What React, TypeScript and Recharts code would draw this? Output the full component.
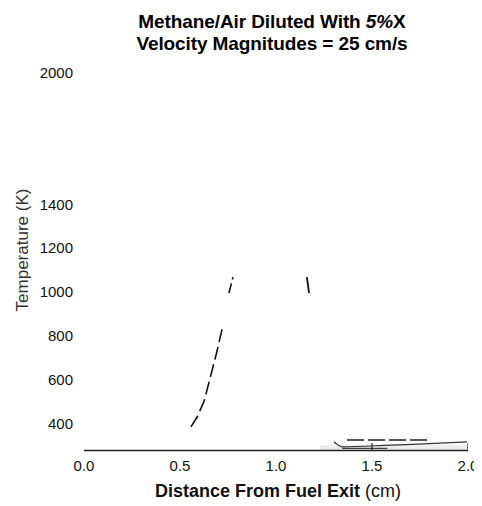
import React from "react";
import { LineChart, Line, XAxis, YAxis, ReferenceArea } from "recharts";

// ---- data ----
const xTicks = [0, 0.5, 1, 1.5, 2];
const yTicks = [400, 600, 800, 1000, 1200, 1400, 2000];

const leftDashedX = [0.557, 0.59, 0.625, 0.655, 0.69, 0.724];
const leftDashedT = [384, 430, 500, 600, 720, 849];

const upperDashedX = [0.755, 0.776];
const upperDashedT = [995, 1068];

const solidShortX = [1.161, 1.172];
const solidShortT = [1068, 995];

const baseDashedX = [1.37, 1.802];
const baseDashedT = [324, 324];

const curveX = [1.302, 1.318, 1.332, 1.344, 1.6, 1.8, 1.995];
const curveT = [316, 304, 297, 293, 301, 307, 315];

const flatX = [1.344, 1.58];
const flatT = [286, 286];

const tickMarkAX = [1.5, 1.5];
const tickMarkBX = [2.0, 2.0];
const tickMarkT = [276, 310];

const bandX = [1.23, 2.0];
const bandT = [276, 301];

const zip = (xs: number[], ts: number[]) => xs.map((x, i) => ({ x, t: ts[i] }));

const FONT = "'Liberation Sans', Arial, Helvetica, sans-serif";

export default function App() {
  const W = 474;
  const H = 498;
  return (
    <div style={{ position: "relative", width: W, height: H, fontFamily: FONT, background: "#fff" }}>
      <div
        style={{
          position: "absolute",
          top: 3,
          left: 264,
          transform: "translateX(-50%)",
          whiteSpace: "nowrap",
          textAlign: "center",
          fontSize: 19,
          lineHeight: "22px",
          fontWeight: "bold",
          color: "#000",
          letterSpacing: -0.1,
        }}
      >
        <div>
          Methane/Air Diluted With <i>5%</i>X
        </div>
        <div>Velocity Magnitudes = 25 cm/s</div>
      </div>
      <div
        style={{
          position: "absolute",
          left: 14.5,
          top: 242,
          transform: "translate(-50%, -50%) rotate(-90deg)",
          whiteSpace: "nowrap",
          fontSize: 17,
          color: "#333",
        }}
      >
        Temperature (K)
      </div>
      <div
        style={{
          position: "absolute",
          left: 270,
          top: 472,
          transform: "translateX(-50%)",
          whiteSpace: "nowrap",
          fontSize: 18,
          lineHeight: "22px",
          color: "#111",
        }}
      >
        <b>Distance From Fuel Exit</b> (cm)
      </div>
      <LineChart width={W} height={H} margin={{ top: 65, right: 14, bottom: 0, left: 0 }}>
        <XAxis
          type="number"
          dataKey="x"
          domain={[0, 2]}
          ticks={xTicks}
          allowDataOverflow
          height={55.5}
          tickLine={false}
          tickSize={6}
          tickMargin={4}
          axisLine={{ stroke: "#222", strokeWidth: 1.6 }}
          tickFormatter={(v: number) => v.toFixed(1)}
          tick={{ fill: "#111", fontSize: 15, fontFamily: FONT }}
        />
        <YAxis
          type="number"
          dataKey="t"
          domain={[276, 2000]}
          ticks={yTicks}
          allowDataOverflow
          width={76}
          tickLine={false}
          axisLine={false}
          tickSize={6}
          tickMargin={5}
          interval={0}
          tick={{ fill: "#111", fontSize: 15, fontFamily: FONT }}
        />
        <ReferenceArea
          x1={bandX[0]}
          x2={bandX[1]}
          y1={bandT[0]}
          y2={bandT[1]}
          fill="#eeeeee"
          fillOpacity={1}
          stroke="none"
          ifOverflow="visible"
        />
        <Line data={zip(leftDashedX, leftDashedT)} dataKey="t" stroke="#111" strokeWidth={1.6} strokeDasharray="13 5" dot={false} isAnimationActive={false} type="linear" />
        <Line data={zip(upperDashedX, upperDashedT)} dataKey="t" stroke="#111" strokeWidth={1.6} strokeDasharray="10 4" dot={false} isAnimationActive={false} type="linear" />
        <Line data={zip(solidShortX, solidShortT)} dataKey="t" stroke="#111" strokeWidth={1.8} dot={false} isAnimationActive={false} type="linear" />
        <Line data={zip(baseDashedX, baseDashedT)} dataKey="t" stroke="#555" strokeWidth={2} strokeDasharray="17 4" dot={false} isAnimationActive={false} type="linear" />
        <Line data={zip(curveX, curveT)} dataKey="t" stroke="#333" strokeWidth={1.2} dot={false} isAnimationActive={false} type="monotone" />
        <Line data={zip(flatX, flatT)} dataKey="t" stroke="#444" strokeWidth={1.2} dot={false} isAnimationActive={false} type="linear" />
        <Line data={zip(tickMarkAX, tickMarkT)} dataKey="t" stroke="#222" strokeWidth={1.2} dot={false} isAnimationActive={false} type="linear" />
        <Line data={zip(tickMarkBX, tickMarkT)} dataKey="t" stroke="#222" strokeWidth={1.2} dot={false} isAnimationActive={false} type="linear" />
      </LineChart>
    </div>
  );
}
